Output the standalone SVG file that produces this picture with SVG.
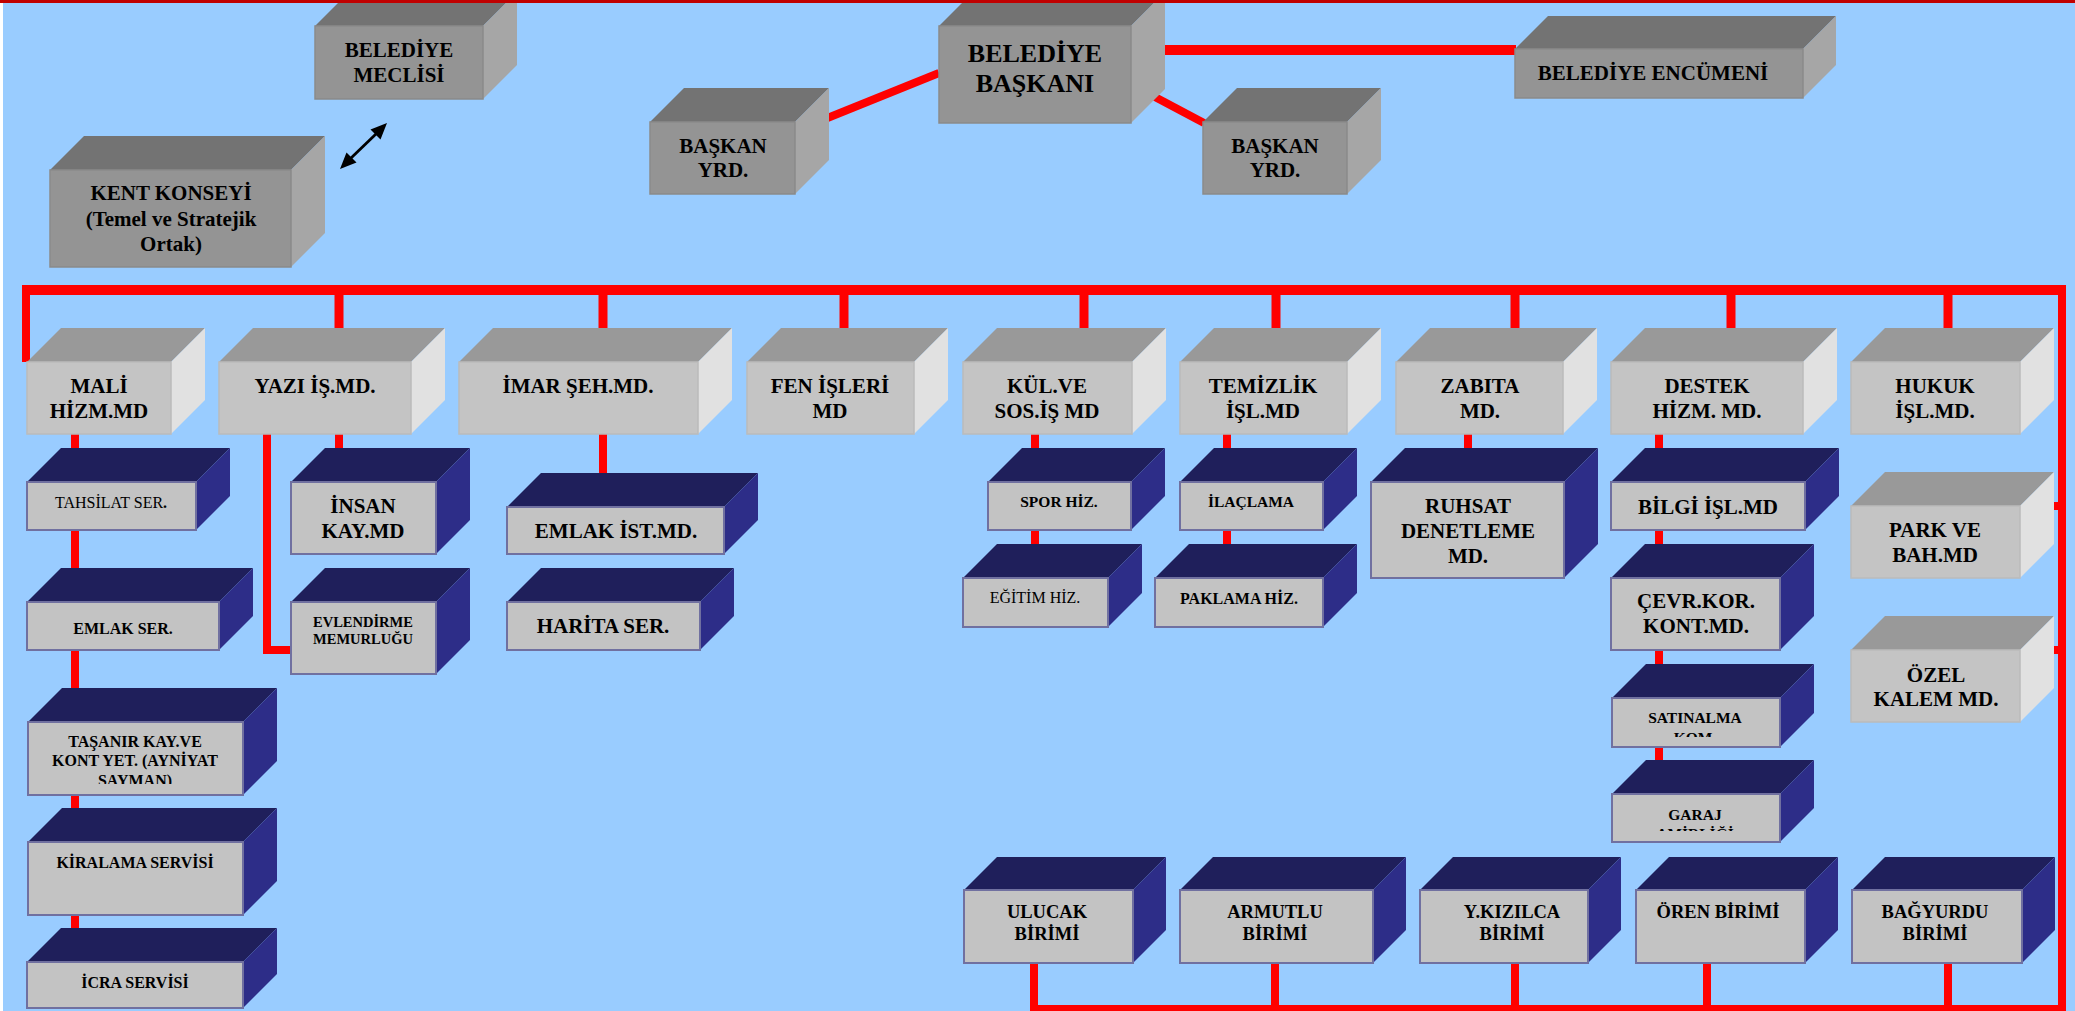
<svg xmlns="http://www.w3.org/2000/svg" width="2075" height="1011" viewBox="0 0 2075 1011" font-family="'Liberation Serif', 'Times New Roman', serif">
<defs>
<style>
.t{font-family:"Liberation Serif","Times New Roman",serif;font-weight:bold;text-anchor:middle;fill:#000}
.r{font-weight:normal}
.f26{font-size:26px}.f21{font-size:21px}.f19{font-size:18.5px}.f16{font-size:16px}.f155{font-size:15.5px}.f145{font-size:14.5px}
.dg .tp{fill:#737373}.dg .rt{fill:#A6A6A6}.dg .fr{fill:#949494;stroke:#8A8A8A;stroke-width:1.5}
.lg .tp{fill:#999999}.lg .rt{fill:#E1E1E1}.lg .fr{fill:#C4C4C4;stroke:#BBBBBB;stroke-width:1.5}
.nv .tp{fill:#1F1F5B}.nv .rt{fill:#2D2D88}.nv .fr{fill:#C3C3C3;stroke:#7070A0;stroke-width:2}
.ln{stroke:#FF0000;fill:none;stroke-linecap:butt}
.ah{fill:#000}
</style>
<clipPath id="cTas" clipPathUnits="userSpaceOnUse"><rect x="28" y="722" width="215" height="62"/></clipPath>
<clipPath id="cSat" clipPathUnits="userSpaceOnUse"><rect x="1612" y="698" width="168" height="39"/></clipPath>
<clipPath id="cGar" clipPathUnits="userSpaceOnUse"><rect x="1612" y="794" width="168" height="37"/></clipPath>
</defs>
<rect x="0" y="0" width="2075" height="1011" fill="#99CCFF"/>
<rect x="0" y="0" width="3" height="1011" fill="#FFFFFF"/>

<g id="connectors">
<path class="ln" stroke-width="8" d="M820,121 L939,73"/>
<path class="ln" stroke-width="8" d="M1155,97 L1204,123"/>
<path class="ln" stroke-width="10" d="M1155,50 H1516"/>
<path class="ln" stroke-width="10" d="M22,290 H2066"/>
<path class="ln" stroke-width="8" d="M26,286 V362"/>
<path class="ln" stroke-width="8" d="M2062,286 V1011"/>
<path class="ln" stroke-width="9" d="M339,290 V332 M603,290 V332 M844,290 V332 M1084,290 V332 M1276,290 V332 M1515,290 V332 M1731,290 V332 M1948,290 V332"/>
<path class="ln" stroke-width="8" d="M75,434 V932"/>
<path class="ln" stroke-width="8" d="M339,434 V452"/>
<path class="ln" stroke-width="8" d="M267,434 V650 H293"/>
<path class="ln" stroke-width="8" d="M603,434 V478"/>
<path class="ln" stroke-width="8" d="M1035,434 V548"/>
<path class="ln" stroke-width="8" d="M1227,434 V548"/>
<path class="ln" stroke-width="8" d="M1468,434 V452"/>
<path class="ln" stroke-width="8" d="M1659,434 V765"/>
<path class="ln" stroke-width="8" d="M2050,506 H2062 M2050,650 H2062"/>
<path class="ln" stroke-width="8" d="M1034,960 V1009 M1275,960 V1009 M1515,960 V1009 M1707,960 V1009 M1948,960 V1009"/>
<path class="ln" stroke-width="8" d="M1030,1009 H2066"/>
<g id="arrow-kent-meclis">
<path stroke="#000" stroke-width="2.8" fill="none" d="M350,159 L377,133"/>
<polygon class="ah" points="387,123 380.5,139.5 370.5,129.5"/>
<polygon class="ah" points="340,169 346.5,152.5 356.5,162.5"/>
</g>
</g>

<g id="n-meclis" class="dg">
<polygon class="tp" points="315,26 349,-8 517,-8 483,26"/>
<polygon class="rt" points="483,26 517,-8 517,65 483,99"/>
<rect class="fr" x="315" y="26" width="168" height="73"/>
<text class="t f21"><tspan x="399" y="57">BELEDİYE</tspan><tspan x="399" y="82">MECLİSİ</tspan></text>
</g>
<g id="n-kent" class="dg">
<polygon class="tp" points="50,170 84,136 325,136 291,170"/>
<polygon class="rt" points="291,170 325,136 325,233 291,267"/>
<rect class="fr" x="50" y="170" width="241" height="97"/>
<text class="t f21"><tspan x="171" y="200">KENT KONSEYİ</tspan><tspan x="171" y="226">(Temel ve Stratejik</tspan><tspan x="171" y="251">Ortak)</tspan></text>
</g>
<g id="n-baskan" class="dg">
<polygon class="tp" points="939,26 973,-8 1165,-8 1131,26"/>
<polygon class="rt" points="1131,26 1165,-8 1165,89 1131,123"/>
<rect class="fr" x="939" y="26" width="192" height="97"/>
<text class="t f26"><tspan x="1035" y="62">BELEDİYE</tspan><tspan x="1035" y="92">BAŞKANI</tspan></text>
</g>
<g id="n-yrd1" class="dg">
<polygon class="tp" points="650,122 684,88 829,88 795,122"/>
<polygon class="rt" points="795,122 829,88 829,160 795,194"/>
<rect class="fr" x="650" y="122" width="145" height="72"/>
<text class="t f21"><tspan x="723" y="153">BAŞKAN</tspan><tspan x="723" y="177">YRD.</tspan></text>
</g>
<g id="n-yrd2" class="dg">
<polygon class="tp" points="1203,122 1237,88 1381,88 1347,122"/>
<polygon class="rt" points="1347,122 1381,88 1381,160 1347,194"/>
<rect class="fr" x="1203" y="122" width="144" height="72"/>
<text class="t f21"><tspan x="1275" y="153">BAŞKAN</tspan><tspan x="1275" y="177">YRD.</tspan></text>
</g>
<g id="n-encumen" class="dg">
<polygon class="tp" points="1515,49 1548,16 1836,16 1803,49"/>
<polygon class="rt" points="1803,49 1836,16 1836,65 1803,98"/>
<rect class="fr" x="1515" y="49" width="288" height="49"/>
<text class="t f21" x="1653" y="80">BELEDİYE ENCÜMENİ</text>
</g>

<g id="n-mali" class="lg">
<polygon class="tp" points="27,362 61,328 205,328 171,362"/>
<polygon class="rt" points="171,362 205,328 205,400 171,434"/>
<rect class="fr" x="27" y="362" width="144" height="72"/>
<text class="t f21"><tspan x="99" y="393">MALİ</tspan><tspan x="99" y="418">HİZM.MD</tspan></text>
</g>
<g id="n-yazi" class="lg">
<polygon class="tp" points="219,362 253,328 445,328 411,362"/>
<polygon class="rt" points="411,362 445,328 445,400 411,434"/>
<rect class="fr" x="219" y="362" width="192" height="72"/>
<text class="t f21" x="315" y="393">YAZI İŞ.MD.</text>
</g>
<g id="n-imar" class="lg">
<polygon class="tp" points="459,362 493,328 732,328 698,362"/>
<polygon class="rt" points="698,362 732,328 732,400 698,434"/>
<rect class="fr" x="459" y="362" width="239" height="72"/>
<text class="t f21" x="578" y="393">İMAR ŞEH.MD.</text>
</g>
<g id="n-fen" class="lg">
<polygon class="tp" points="747,362 781,328 948,328 914,362"/>
<polygon class="rt" points="914,362 948,328 948,400 914,434"/>
<rect class="fr" x="747" y="362" width="167" height="72"/>
<text class="t f21"><tspan x="830" y="393">FEN İŞLERİ</tspan><tspan x="830" y="418">MD</tspan></text>
</g>
<g id="n-kul" class="lg">
<polygon class="tp" points="963,362 997,328 1166,328 1132,362"/>
<polygon class="rt" points="1132,362 1166,328 1166,400 1132,434"/>
<rect class="fr" x="963" y="362" width="169" height="72"/>
<text class="t f21"><tspan x="1047" y="393">KÜL.VE</tspan><tspan x="1047" y="418">SOS.İŞ MD</tspan></text>
</g>
<g id="n-temizlik" class="lg">
<polygon class="tp" points="1180,362 1214,328 1381,328 1347,362"/>
<polygon class="rt" points="1347,362 1381,328 1381,400 1347,434"/>
<rect class="fr" x="1180" y="362" width="167" height="72"/>
<text class="t f21"><tspan x="1263" y="393">TEMİZLİK</tspan><tspan x="1263" y="418">İŞL.MD</tspan></text>
</g>
<g id="n-zabita" class="lg">
<polygon class="tp" points="1396,362 1430,328 1597,328 1563,362"/>
<polygon class="rt" points="1563,362 1597,328 1597,400 1563,434"/>
<rect class="fr" x="1396" y="362" width="167" height="72"/>
<text class="t f21"><tspan x="1480" y="393">ZABITA</tspan><tspan x="1480" y="418">MD.</tspan></text>
</g>
<g id="n-destek" class="lg">
<polygon class="tp" points="1611,362 1645,328 1837,328 1803,362"/>
<polygon class="rt" points="1803,362 1837,328 1837,400 1803,434"/>
<rect class="fr" x="1611" y="362" width="192" height="72"/>
<text class="t f21"><tspan x="1707" y="393">DESTEK</tspan><tspan x="1707" y="418">HİZM. MD.</tspan></text>
</g>
<g id="n-hukuk" class="lg">
<polygon class="tp" points="1851,362 1885,328 2054,328 2020,362"/>
<polygon class="rt" points="2020,362 2054,328 2054,400 2020,434"/>
<rect class="fr" x="1851" y="362" width="169" height="72"/>
<text class="t f21"><tspan x="1935" y="393">HUKUK</tspan><tspan x="1935" y="418">İŞL.MD.</tspan></text>
</g>
<g id="n-park" class="lg">
<polygon class="tp" points="1851,506 1885,472 2054,472 2020,506"/>
<polygon class="rt" points="2020,506 2054,472 2054,544 2020,578"/>
<rect class="fr" x="1851" y="506" width="169" height="72"/>
<text class="t f21"><tspan x="1935" y="537">PARK VE</tspan><tspan x="1935" y="562">BAH.MD</tspan></text>
</g>
<g id="n-ozel" class="lg">
<polygon class="tp" points="1851,650 1885,616 2054,616 2020,650"/>
<polygon class="rt" points="2020,650 2054,616 2054,688 2020,722"/>
<rect class="fr" x="1851" y="650" width="169" height="72"/>
<text class="t f21"><tspan x="1936" y="682">ÖZEL</tspan><tspan x="1936" y="706">KALEM MD.</tspan></text>
</g>

<g id="n-tahsilat" class="nv">
<polygon class="tp" points="27,482 61,448 230,448 196,482"/>
<polygon class="rt" points="196,482 230,448 230,496 196,530"/>
<rect class="fr" x="27" y="482" width="169" height="48"/>
<text class="t f16" x="111" y="508"><tspan class="r">TAHSİLAT SER</tspan>.</text>
</g>
<g id="n-emlakser" class="nv">
<polygon class="tp" points="27,602 61,568 253,568 219,602"/>
<polygon class="rt" points="219,602 253,568 253,616 219,650"/>
<rect class="fr" x="27" y="602" width="192" height="48"/>
<text class="t f16" x="123" y="634">EMLAK SER.</text>
</g>
<g id="n-tasanir" class="nv">
<polygon class="tp" points="28,722 62,688 277,688 243,722"/>
<polygon class="rt" points="243,722 277,688 277,761 243,795"/>
<rect class="fr" x="28" y="722" width="215" height="73"/>
<text class="t f16" clip-path="url(#cTas)"><tspan x="135" y="747">TAŞANIR KAY.VE</tspan><tspan x="135" y="766">KONT YET. (AYNİYAT</tspan><tspan x="135" y="786">SAYMAN)</tspan></text>
</g>
<g id="n-kiralama" class="nv">
<polygon class="tp" points="28,842 62,808 277,808 243,842"/>
<polygon class="rt" points="243,842 277,808 277,881 243,915"/>
<rect class="fr" x="28" y="842" width="215" height="73"/>
<text class="t f16" x="135" y="868">KİRALAMA SERVİSİ</text>
</g>
<g id="n-icra" class="nv">
<polygon class="tp" points="27,962 61,928 277,928 243,962"/>
<polygon class="rt" points="243,962 277,928 277,974 243,1008"/>
<rect class="fr" x="27" y="962" width="216" height="46"/>
<text class="t f16" x="135" y="988">İCRA SERVİSİ</text>
</g>
<g id="n-insan" class="nv">
<polygon class="tp" points="291,482 325,448 470,448 436,482"/>
<polygon class="rt" points="436,482 470,448 470,520 436,554"/>
<rect class="fr" x="291" y="482" width="145" height="72"/>
<text class="t f21"><tspan x="363" y="513">İNSAN</tspan><tspan x="363" y="538">KAY.MD</tspan></text>
</g>
<g id="n-evlendirme" class="nv">
<polygon class="tp" points="291,602 325,568 470,568 436,602"/>
<polygon class="rt" points="436,602 470,568 470,640 436,674"/>
<rect class="fr" x="291" y="602" width="145" height="72"/>
<text class="t f145"><tspan x="363" y="627">EVLENDİRME</tspan><tspan x="363" y="644">MEMURLUĞU</tspan></text>
</g>
<g id="n-emlakist" class="nv">
<polygon class="tp" points="507,507 541,473 758,473 724,507"/>
<polygon class="rt" points="724,507 758,473 758,520 724,554"/>
<rect class="fr" x="507" y="507" width="217" height="47"/>
<text class="t f21" x="616" y="538">EMLAK İST.MD.</text>
</g>
<g id="n-harita" class="nv">
<polygon class="tp" points="507,602 541,568 734,568 700,602"/>
<polygon class="rt" points="700,602 734,568 734,616 700,650"/>
<rect class="fr" x="507" y="602" width="193" height="48"/>
<text class="t f21" x="603" y="633">HARİTA SER.</text>
</g>
<g id="n-spor" class="nv">
<polygon class="tp" points="988,482 1022,448 1165,448 1131,482"/>
<polygon class="rt" points="1131,482 1165,448 1165,496 1131,530"/>
<rect class="fr" x="988" y="482" width="143" height="48"/>
<text class="t f155" x="1059" y="507">SPOR HİZ.</text>
</g>
<g id="n-egitim" class="nv">
<polygon class="tp" points="963,578 997,544 1142,544 1108,578"/>
<polygon class="rt" points="1108,578 1142,544 1142,593 1108,627"/>
<rect class="fr" x="963" y="578" width="145" height="49"/>
<text class="t r f16" x="1035" y="603">EĞİTİM HİZ.</text>
</g>
<g id="n-ilaclama" class="nv">
<polygon class="tp" points="1180,482 1214,448 1357,448 1323,482"/>
<polygon class="rt" points="1323,482 1357,448 1357,496 1323,530"/>
<rect class="fr" x="1180" y="482" width="143" height="48"/>
<text class="t f155" x="1251" y="507">İLAÇLAMA</text>
</g>
<g id="n-paklama" class="nv">
<polygon class="tp" points="1155,578 1189,544 1357,544 1323,578"/>
<polygon class="rt" points="1323,578 1357,544 1357,593 1323,627"/>
<rect class="fr" x="1155" y="578" width="168" height="49"/>
<text class="t f16" x="1239" y="604">PAKLAMA HİZ.</text>
</g>
<g id="n-ruhsat" class="nv">
<polygon class="tp" points="1371,482 1405,448 1598,448 1564,482"/>
<polygon class="rt" points="1564,482 1598,448 1598,544 1564,578"/>
<rect class="fr" x="1371" y="482" width="193" height="96"/>
<text class="t f21"><tspan x="1468" y="513">RUHSAT</tspan><tspan x="1468" y="538">DENETLEME</tspan><tspan x="1468" y="563">MD.</tspan></text>
</g>
<g id="n-bilgi" class="nv">
<polygon class="tp" points="1611,482 1645,448 1839,448 1805,482"/>
<polygon class="rt" points="1805,482 1839,448 1839,496 1805,530"/>
<rect class="fr" x="1611" y="482" width="194" height="48"/>
<text class="t f21" x="1708" y="514">BİLGİ İŞL.MD</text>
</g>
<g id="n-cevre" class="nv">
<polygon class="tp" points="1611,578 1645,544 1814,544 1780,578"/>
<polygon class="rt" points="1780,578 1814,544 1814,616 1780,650"/>
<rect class="fr" x="1611" y="578" width="169" height="72"/>
<text class="t f21"><tspan x="1696" y="608">ÇEVR.KOR.</tspan><tspan x="1696" y="633">KONT.MD.</tspan></text>
</g>
<g id="n-satinalma" class="nv">
<polygon class="tp" points="1612,698 1646,664 1814,664 1780,698"/>
<polygon class="rt" points="1780,698 1814,664 1814,713 1780,747"/>
<rect class="fr" x="1612" y="698" width="168" height="49"/>
<text class="t f155" clip-path="url(#cSat)"><tspan x="1695" y="723">SATINALMA</tspan><tspan x="1695" y="743">KOM.</tspan></text>
</g>
<g id="n-garaj" class="nv">
<polygon class="tp" points="1612,794 1646,760 1814,760 1780,794"/>
<polygon class="rt" points="1780,794 1814,760 1814,808 1780,842"/>
<rect class="fr" x="1612" y="794" width="168" height="48"/>
<text class="t f155" clip-path="url(#cGar)"><tspan x="1695" y="820">GARAJ</tspan><tspan x="1695" y="839">AMİRLİĞİ</tspan></text>
</g>

<g id="n-ulucak" class="nv">
<polygon class="tp" points="964,890 997,857 1166,857 1133,890"/>
<polygon class="rt" points="1133,890 1166,857 1166,930 1133,963"/>
<rect class="fr" x="964" y="890" width="169" height="73"/>
<text class="t f19"><tspan x="1047" y="918">ULUCAK</tspan><tspan x="1047" y="940">BİRİMİ</tspan></text>
</g>
<g id="n-armutlu" class="nv">
<polygon class="tp" points="1180,890 1213,857 1406,857 1373,890"/>
<polygon class="rt" points="1373,890 1406,857 1406,930 1373,963"/>
<rect class="fr" x="1180" y="890" width="193" height="73"/>
<text class="t f19"><tspan x="1275" y="918">ARMUTLU</tspan><tspan x="1275" y="940">BİRİMİ</tspan></text>
</g>
<g id="n-ykizilca" class="nv">
<polygon class="tp" points="1420,890 1453,857 1621,857 1588,890"/>
<polygon class="rt" points="1588,890 1621,857 1621,930 1588,963"/>
<rect class="fr" x="1420" y="890" width="168" height="73"/>
<text class="t f19"><tspan x="1512" y="918">Y.KIZILCA</tspan><tspan x="1512" y="940">BİRİMİ</tspan></text>
</g>
<g id="n-oren" class="nv">
<polygon class="tp" points="1636,890 1669,857 1838,857 1805,890"/>
<polygon class="rt" points="1805,890 1838,857 1838,930 1805,963"/>
<rect class="fr" x="1636" y="890" width="169" height="73"/>
<text class="t f19" x="1718" y="918">ÖREN BİRİMİ</text>
</g>
<g id="n-bagyurdu" class="nv">
<polygon class="tp" points="1852,890 1885,857 2055,857 2022,890"/>
<polygon class="rt" points="2022,890 2055,857 2055,930 2022,963"/>
<rect class="fr" x="1852" y="890" width="170" height="73"/>
<text class="t f19"><tspan x="1935" y="918">BAĞYURDU</tspan><tspan x="1935" y="940">BİRİMİ</tspan></text>
</g>

<rect x="0" y="0" width="2075" height="3" fill="#C00000"/>
</svg>
